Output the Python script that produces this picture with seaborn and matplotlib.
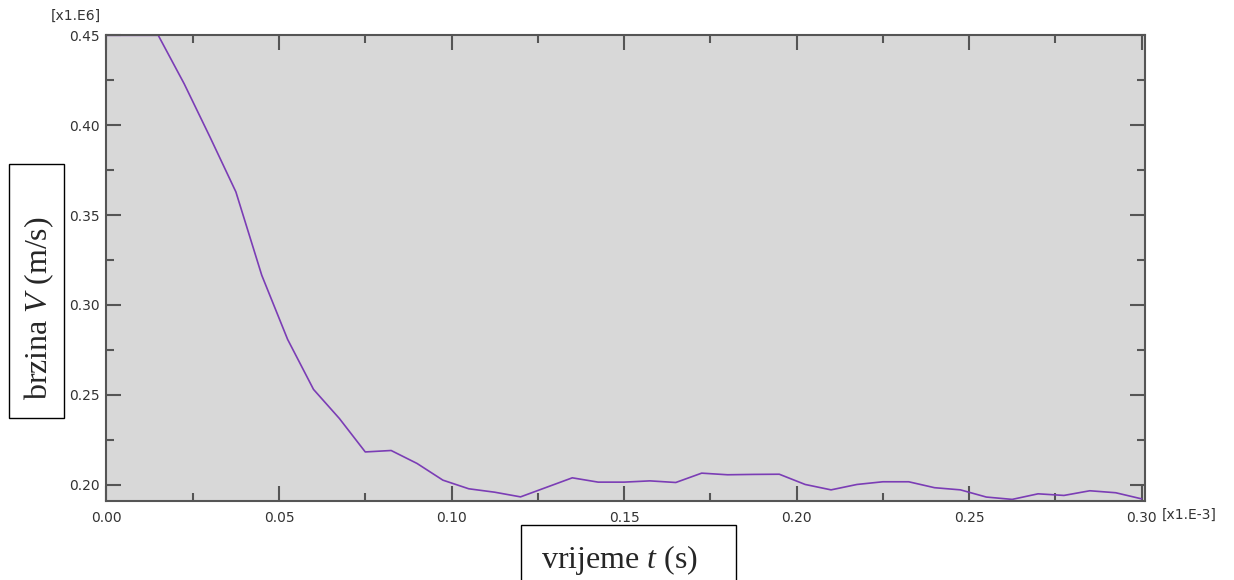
import matplotlib
matplotlib.use('Agg')
import matplotlib.pyplot as plt
import seaborn as sns
import pandas as pd
from matplotlib.ticker import MultipleLocator, FormatStrFormatter

# time [x1.E-3 s] and speed [x1.E6 m/s]
t = [0.0, 0.0075, 0.015, 0.0225, 0.03, 0.0375, 0.045, 0.0525, 0.06, 0.0675,
     0.075, 0.0825, 0.09, 0.0975, 0.105, 0.1125, 0.12, 0.1275, 0.135, 0.1425,
     0.15, 0.1575, 0.165, 0.1725, 0.18, 0.1875, 0.195, 0.2025, 0.21, 0.2175,
     0.225, 0.2325, 0.24, 0.2475, 0.255, 0.2625, 0.27, 0.2775, 0.285, 0.2925,
     0.30]
v = [0.450, 0.450, 0.450, 0.4231, 0.3934, 0.3629, 0.3165, 0.2808, 0.2530, 0.2368,
     0.2182, 0.2190, 0.2118, 0.2025, 0.1977, 0.1958, 0.1932, 0.1985, 0.2038, 0.2014,
     0.2014, 0.2021, 0.2012, 0.2064, 0.2055, 0.2057, 0.2058, 0.2001, 0.1971, 0.2001,
     0.2016, 0.2016, 0.1983, 0.1971, 0.1931, 0.1918, 0.1949, 0.1940, 0.1966, 0.1955,
     0.1921]

df = pd.DataFrame({'t': t, 'v': v})

sns.set_style('white')
plt.rcParams['mathtext.fontset'] = 'custom'
plt.rcParams['mathtext.it'] = 'Liberation Serif:italic'
plt.rcParams['mathtext.rm'] = 'Liberation Serif'

fig = plt.figure(figsize=(12.34, 5.8), dpi=100)
ax = fig.add_axes([0.0863, 0.1362, 0.8416, 0.8035])
ax.set_facecolor('#d8d8d8')

sns.lineplot(data=df, x='t', y='v', ax=ax, color='#7b3db5', linewidth=1.2)
for ln in ax.lines:
    ln.set_clip_on(False)

ax.set_xlim(0, 0.301)
ax.set_ylim(0.1909, 0.4502)

ax.xaxis.set_major_locator(MultipleLocator(0.05))
ax.xaxis.set_minor_locator(MultipleLocator(0.025))
ax.yaxis.set_major_locator(MultipleLocator(0.05))
ax.yaxis.set_minor_locator(MultipleLocator(0.025))
ax.xaxis.set_major_formatter(FormatStrFormatter('%.2f'))
ax.yaxis.set_major_formatter(FormatStrFormatter('%.2f'))

ax.tick_params(which='both', direction='in', top=True, right=True,
               bottom=True, left=True, color='#555555', width=1.5)
ax.tick_params(which='major', length=11, labelsize=10, labelcolor='#333333')
ax.tick_params(which='minor', length=5.5)
ax.tick_params(axis='y', which='major', pad=5)
ax.tick_params(axis='x', which='major', pad=7)

for s in ax.spines.values():
    s.set_color('#555555')
    s.set_linewidth(1.5)

ax.set_xlabel('')
ax.set_ylabel('')

# axis multipliers
fig.text(101 / 1234, 1 - 16 / 580, '[x1.E6]', ha='right', va='center',
         fontsize=10, color='#333333')
fig.text(1162 / 1234, 1 - 515 / 580, '[x1.E-3]', ha='left', va='center',
         fontsize=10, color='#333333')

# boxed axis titles
fig.text(39 / 1234, 1 - 308 / 580, r'brzina $\it{V}$ (m/s)', rotation=90,
         ha='center', va='center', fontsize=23, family='Liberation Serif')
fig.patches.append(plt.Rectangle((9 / 1234, 1 - 418 / 580), 55 / 1234, 254 / 580,
                                 transform=fig.transFigure, fill=False,
                                 edgecolor='black', linewidth=1))
fig.text(619 / 1234, 1 - 560 / 580, r'vrijeme $\it{t}$ (s)',
         ha='center', va='center', fontsize=23, family='Liberation Serif')
fig.patches.append(plt.Rectangle((520.5 / 1234, 1 - 590 / 580), 215 / 1234, 65 / 580,
                                 transform=fig.transFigure, fill=False,
                                 edgecolor='black', linewidth=1, clip_on=False))

fig.savefig('out.png', dpi=100)
